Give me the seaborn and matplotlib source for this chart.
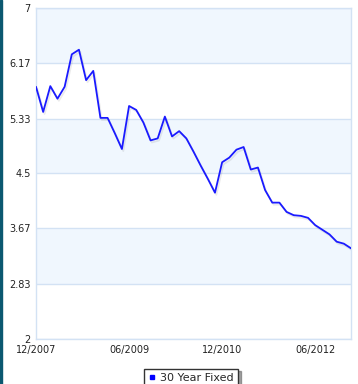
import seaborn as sns
import numpy as np
import matplotlib.pyplot as plt
import pandas as pd
import matplotlib
import matplotlib.patheffects as pe

# 30 year fixed rate
rates = [5.81, 5.43, 5.82, 5.63, 5.81, 6.30, 6.37, 5.91, 6.05, 5.34,
         5.34, 5.11, 4.87, 5.52, 5.46, 5.27, 5.00, 5.03, 5.36, 5.06,
         5.14, 5.03, 4.83, 4.62, 4.42, 4.21, 4.67, 4.74, 4.86, 4.90,
         4.56, 4.59, 4.25, 4.06, 4.06, 3.92, 3.87, 3.86, 3.83, 3.72,
         3.65, 3.58, 3.47, 3.44, 3.37]
x_ticks = [0, 13, 26, 39]
x_labels = ['12/2007', '06/2009', '12/2010', '06/2012']
y_ticks = [2, 2.83, 3.67, 4.5, 5.33, 6.17, 7]
series_name = '30 Year Fixed'

df = pd.DataFrame({'idx': np.arange(len(rates)), 'rate': rates})

sns.set_style("white")
fig = plt.figure(figsize=(3.58, 3.84), dpi=100)
ax = fig.add_axes([36 / 358, 1 - 339 / 384, 315 / 358, 331 / 384])

grid_col = '#d3e2f4'
band_col = '#f0f7fe'
# alternating bands
for i in range(len(y_ticks) - 1):
    if i % 2 == 0:
        ax.axhspan(y_ticks[i + 1], y_ticks[i], color='white', zorder=0)
    else:
        ax.axhspan(y_ticks[i], y_ticks[i + 1], color=band_col, zorder=0, lw=0)
for yv in y_ticks:
    ax.axhline(yv, color=grid_col, lw=1, zorder=1)

sns.lineplot(data=df, x='idx', y='rate', ax=ax, color='#1a1aff', lw=1.3,
             label=series_name, zorder=3,
             path_effects=[pe.SimpleLineShadow(offset=(1, -1.5), alpha=0.08), pe.Normal()])

ax.set_xlim(0, len(rates) - 1)
ax.set_ylim(2, 7)
ax.set_yticks(y_ticks)
ax.set_yticklabels(['2', '2.83', '3.67', '4.5', '5.33', '6.17', '7'],
                   fontsize=7, color='#222222', family='DejaVu Sans')
ax.set_xticks(x_ticks)
ax.set_xticklabels(x_labels, fontsize=7, color='#222222',
                   family=['Liberation Sans Narrow', 'DejaVu Sans'])
ax.tick_params(axis='both', length=0, pad=4)
ax.tick_params(axis='x', pad=4)
ax.set_xlabel('')
ax.set_ylabel('')
for s in ax.spines.values():
    s.set_color(grid_col)
    s.set_linewidth(1)

ax.get_legend().remove()
leg_handle = matplotlib.lines.Line2D([], [], marker='s', color='#0000ff', lw=0, markersize=3.5)
leg = fig.legend([leg_handle], [series_name], loc='upper center',
                 bbox_to_anchor=(191 / 358, 1 - 363 / 384), frameon=True,
                 fancybox=False, shadow=True, handlelength=0.6, handletextpad=0.4,
                 borderpad=0.4, prop={'family': 'DejaVu Sans', 'size': 8})
leg.get_frame().set_edgecolor('#333333')
leg.get_frame().set_linewidth(1)

# dark strip on the left edge of the page
fig.patches.append(matplotlib.patches.Rectangle((0, 0), 2 / 358, 1, transform=fig.transFigure,
                                                color='#0b5870', zorder=5))

fig.savefig('out.png', dpi=100)
